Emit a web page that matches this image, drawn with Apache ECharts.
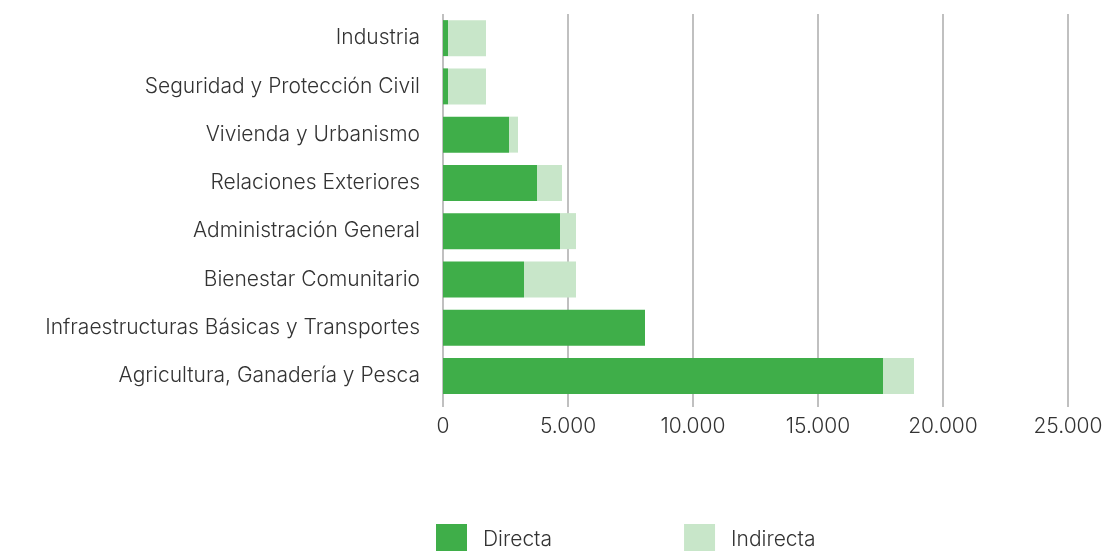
<!DOCTYPE html>
<html>
<head>
<meta charset="utf-8">
<script src="https://cdn.jsdelivr.net/npm/echarts@6/dist/echarts.min.js"></script>
<style>
  html, body { margin: 0; padding: 0; background: #fff; }
  #chart { width: 1115px; height: 551px; }
</style>
</head>
<body>
<div id="chart"></div>
<script>
var categories = ['Industria', 'Seguridad y Protección Civil', 'Vivienda y Urbanismo', 'Relaciones Exteriores',
    'Administración General', 'Bienestar Comunitario', 'Infraestructuras Básicas y Transportes', 'Agricultura, Ganadería y Pesca'];
var directa = [200, 200, 2640, 3760, 4680, 3240, 8080, 17600];
var indirecta = [1520, 1520, 360, 1000, 640, 2080, 0, 1240];
var xTicks = [0, 5000, 10000, 15000, 20000, 25000];

var font = 'Inter';
var chart = echarts.init(document.getElementById('chart'));

chart.setOption({
    animation: false,
    textStyle: { fontFamily: font },
    grid: { left: 443, right: 47, top: 14, bottom: 151, containLabel: false },
    legend: {
        data: ['Directa', 'Indirecta'],
        left: 431, top: 519,
        itemWidth: 31, itemHeight: 31, itemGap: 132,
        icon: 'rect',
        textStyle: { fontSize: 21, color: '#333', fontFamily: font, fontWeight: 300, padding: [0, 0, 0, 11] }
    },
    xAxis: {
        type: 'value',
        min: xTicks[0], max: xTicks[xTicks.length - 1], interval: 5000,
        axisLine: { show: false },
        axisTick: { show: true, length: 7, lineStyle: { color: '#c0c0c0', width: 2 } },
        splitLine: { show: true, lineStyle: { color: '#c0c0c0', width: 2 } },
        axisLabel: {
            fontSize: 21, color: '#333', margin: 16, fontFamily: font, fontWeight: 300,
            formatter: function (v) { return v.toString().replace(/\B(?=(\d{3})+(?!\d))/g, '.'); }
        }
    },
    yAxis: {
        type: 'category',
        inverse: true,
        data: categories,
        axisLine: { show: false },
        axisTick: { show: false },
        axisLabel: { fontSize: 21, color: '#333', margin: 23, fontFamily: font, fontWeight: 300 }
    },
    series: [
        { name: 'Directa', type: 'bar', stack: 'total', data: directa, barWidth: 36,
          itemStyle: { color: '#3fae49' } },
        { name: 'Indirecta', type: 'bar', stack: 'total', data: indirecta, barWidth: 36,
          itemStyle: { color: '#c8e6c9' } }
    ]
});
</script>
</body>
</html>
